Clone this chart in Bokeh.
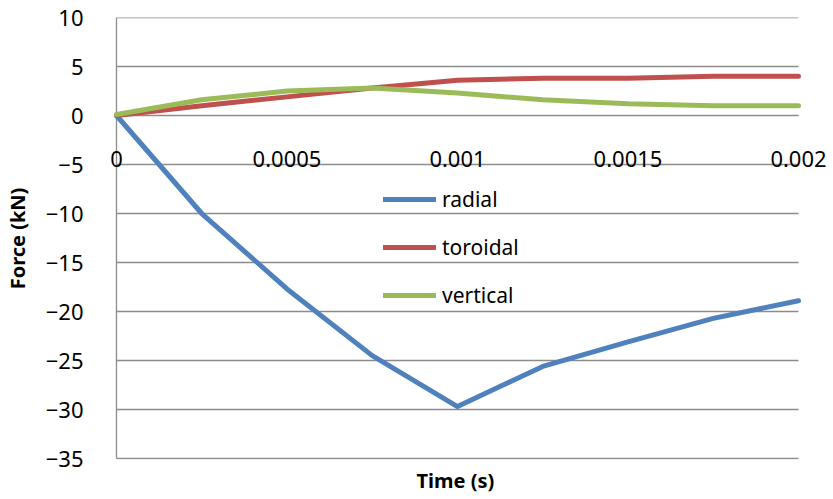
from bokeh.plotting import figure
from bokeh.models import Range1d, FixedTicker, Legend, LegendItem, Title, LabelSet, ColumnDataSource
from bokeh.core.properties import value
from bokeh.embed import file_html
from bokeh.resources import INLINE

time_s = [0, 0.00025, 0.0005, 0.00075, 0.001, 0.00125, 0.0015, 0.00175, 0.002]
radial = [0, -10.0, -17.7, -24.5, -29.7, -25.6, -23.1, -20.7, -18.9]
toroidal = [0, 1.0, 1.9, 2.8, 3.6, 3.8, 3.8, 4.0, 4.0]
vertical = [0.1, 1.6, 2.5, 2.8, 2.3, 1.6, 1.2, 1.0, 1.0]

x_ticks = [0, 0.0005, 0.001, 0.0015, 0.002]
x_tick_labels = ["0", "0.0005", "0.001", "0.0015", "0.002"]
y_ticks = [-35, -30, -25, -20, -15, -10, -5, 0, 5, 10]

FONT = "Noto Sans"
GRID = "#8C8C8C"

# plotting area: 0..0.002 spans 682 px; the frame gets extra room so that
# the edge tick labels are not clipped
X_MIN, X_MAX = 0, 0.002
PX_PER_UNIT = 682 / (X_MAX - X_MIN)
PAD_L, PAD_R = 15, 33

p = figure(width=833, height=499, output_backend="svg", toolbar_location=None,
           x_range=Range1d(X_MIN - PAD_L / PX_PER_UNIT, X_MAX + PAD_R / PX_PER_UNIT),
           y_range=Range1d(-35.1, 10),
           frame_width=682 + PAD_L + PAD_R, frame_height=442,
           min_border_left=100, min_border_top=17, min_border_right=3, min_border_bottom=40)
p.outline_line_color = None
p.background_fill_color = "white"
p.xgrid.visible = False
p.ygrid.visible = False

# gridlines and the vertical axis line, spanning only the data range
p.segment(x0=[X_MIN] * len(y_ticks), x1=[X_MAX] * len(y_ticks), y0=y_ticks, y1=y_ticks,
          line_color=GRID, line_width=1.3)
p.segment(x0=[X_MIN], x1=[X_MIN], y0=[y_ticks[0]], y1=[y_ticks[-1]],
          line_color=GRID, line_width=1.3)

colors = {"radial": "#4F81BD", "toroidal": "#C0504D", "vertical": "#9BBB59"}
LW = 5
r1 = p.line(time_s, radial, line_color=colors["radial"], line_width=LW, line_join="round", line_cap="round")
r2 = p.line(time_s, toroidal, line_color=colors["toroidal"], line_width=LW, line_join="round", line_cap="round")
r3 = p.line(time_s, vertical, line_color=colors["vertical"], line_width=LW, line_join="round", line_cap="round")

# y axis (labels only; the line is drawn above at x = 0)
p.yaxis.ticker = FixedTicker(ticks=y_ticks)
p.yaxis.axis_line_color = None
p.yaxis.major_tick_line_color = None
p.yaxis.minor_tick_line_color = None
p.yaxis.major_label_text_font = FONT
p.yaxis.major_label_text_font_size = "22px"
p.yaxis.major_label_text_color = "black"
p.yaxis.major_label_standoff = 12
p.yaxis.axis_label = "Force (kN)"
p.yaxis.axis_label_text_font = FONT
p.yaxis.axis_label_text_font_style = "bold"
p.yaxis.axis_label_text_font_size = "20px"
p.yaxis.axis_label_text_color = "black"
p.yaxis.axis_label_standoff = 12

# x axis: labels hang below the y = 0 line
p.xaxis.visible = False
xlab_src = ColumnDataSource(dict(x=x_ticks, y=[0] * len(x_ticks), text=x_tick_labels))
p.add_layout(LabelSet(x="x", y="y", text="text", source=xlab_src, y_offset=-43,
                      text_align="center", text_baseline="middle",
                      text_font=value(FONT), text_font_size=value("22px"), text_color="black"))

p.add_layout(Title(text="Time (s)", align="left", offset=315, text_font=FONT, text_font_size="20px",
                   text_font_style="bold", text_color="black"), "below")

legend = Legend(items=[LegendItem(label="radial", renderers=[r1]),
                       LegendItem(label="toroidal", renderers=[r2]),
                       LegendItem(label="vertical", renderers=[r3])],
                location=(282, 150), padding=0, margin=0, spacing=20,
                glyph_width=53, glyph_height=20, label_height=20, label_standoff=6,
                label_text_font=FONT, label_text_font_size="21px", label_text_color="black",
                border_line_color=None, background_fill_alpha=0)
p.add_layout(legend)

open("out.html", "w").write(file_html(p, INLINE))
